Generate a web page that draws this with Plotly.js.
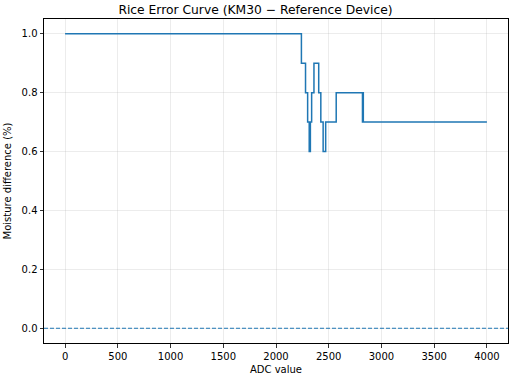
<!DOCTYPE html>
<html>
<head>
<meta charset="utf-8">
<script src="https://cdn.plot.ly/plotly-3.0.1.min.js"></script>
<style>html,body{margin:0;padding:0;background:#fff;}#chart{width:511px;height:378px;}</style>
</head>
<body>
<div id="chart"></div>
<script>
const adcValues = [0, 2241, 2280, 2300, 2315, 2319, 2322, 2326, 2338, 2360, 2405, 2425, 2447, 2471, 2571, 2820, 2824, 2828, 4000];
const moistureDiff = [1.0, 0.9, 0.8, 0.7, 0.6, 0.7, 0.6, 0.7, 0.8, 0.9, 0.8, 0.7, 0.6, 0.7, 0.8, 0.7, 0.8, 0.7, 0.7];
const xTicks = [0, 500, 1000, 1500, 2000, 2500, 3000, 3500, 4000];
const yTicks = [0.0, 0.2, 0.4, 0.6, 0.8, 1.0];
const referenceLevel = 0;

const font = "DejaVu Sans, sans-serif";
const trace = {
  x: adcValues, y: moistureDiff, type: 'scatter', mode: 'lines',
  line: {shape: 'hv', color: '#1f77b4', width: 1.5},
  hoverinfo: 'skip'
};
const axisCommon = {
  showline: true, mirror: true, linecolor: '#000', linewidth: 1,
  ticks: 'outside', ticklen: 3.5, tickwidth: 0.8, tickcolor: '#000',
  showgrid: true, gridcolor: 'rgba(176,176,176,0.3)', gridwidth: 0.8,
  zeroline: false, tickfont: {family: font, size: 10, color: '#000'}
};
const layout = {
  width: 511, height: 378,
  margin: {l: 44, r: 3, t: 19, b: 35},
  paper_bgcolor: '#fff', plot_bgcolor: '#fff',
  showlegend: false,
  title: {text: 'Rice Error Curve (KM30 \u2212 Reference Device)', font: {family: font, size: 12.3, color: '#000'}, x: 0.5, xanchor: 'center', y: 0.974, yanchor: 'middle'},
  xaxis: Object.assign({}, axisCommon, {
    range: [-200, 4200], tickvals: xTicks, ticktext: xTicks.map(String),
    title: {text: 'ADC value', font: {family: font, size: 10, color: '#000'}, standoff: 5}
  }),
  yaxis: Object.assign({}, axisCommon, {
    range: [-0.05, 1.05], tickvals: yTicks, ticktext: yTicks.map(v => v.toFixed(1)),
    title: {text: 'Moisture difference (%)', font: {family: font, size: 10, color: '#000'}, standoff: 8}
  }),
  shapes: [{
    type: 'line', xref: 'paper', x0: 0, x1: 1, yref: 'y', y0: referenceLevel, y1: referenceLevel,
    line: {color: '#1f77b4', width: 1, dash: '4px,2px'}
  }]
};
Plotly.newPlot('chart', [trace], layout, {staticPlot: true, displayModeBar: false});
</script>
</body>
</html>
